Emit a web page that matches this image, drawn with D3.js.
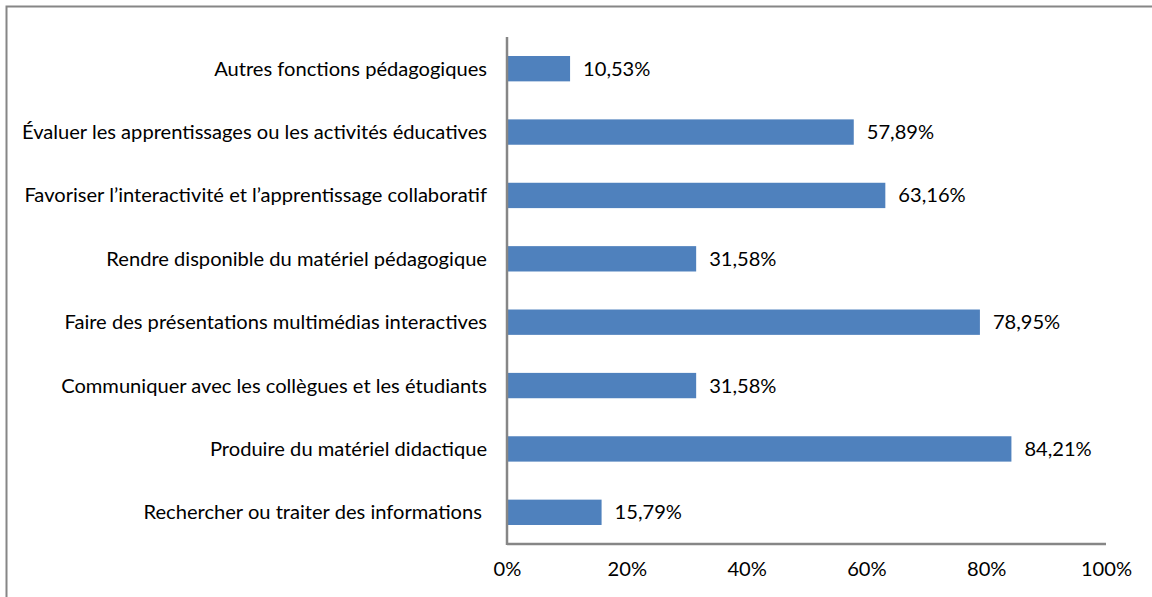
<!DOCTYPE html>
<html><head><meta charset="utf-8">
<script src="https://cdn.jsdelivr.net/npm/d3@7"></script>
<style>
html,body{margin:0;padding:0;background:#fff;}
text{font-family:Lato,"Liberation Sans",Arial,sans-serif;fill:#000;}
</style></head>
<body>
<svg id="c" width="1152" height="597"></svg>
<script>
const categories = [
  "Autres fonctions pédagogiques",
  "Évaluer les apprentissages ou les activités éducatives",
  "Favoriser l’interactivité et l’apprentissage collaboratif",
  "Rendre disponible du matériel pédagogique",
  "Faire des présentations multimédias interactives",
  "Communiquer avec les collègues et les étudiants",
  "Produire du matériel didactique",
  "Rechercher ou traiter des informations "
];
const values = [10.53, 57.89, 63.16, 31.58, 78.95, 31.58, 84.21, 15.79];
const tickValues = [0, 20, 40, 60, 80, 100];

const svg = d3.select("#c");
// outer frame (clipped at right and bottom)
svg.append("path").attr("d","M6.5,600 L6.5,6.5 L1160,6.5")
  .attr("fill","none").attr("stroke","#868686").attr("stroke-width",2);

const x = d3.scaleLinear().domain([0,100]).range([507,1106]);
const y = d3.scaleBand().domain(categories).range([37,544]).paddingInner(0.6).paddingOuter(0.3);

// bars
svg.selectAll("rect.bar").data(values).enter().append("rect")
  .attr("class","bar")
  .attr("x", x(0))
  .attr("y", (d,i)=>y(categories[i]))
  .attr("width", d=>x(d)-x(0))
  .attr("height", y.bandwidth())
  .attr("fill","#4F81BD");

// category labels
const fs = 16;
const labels = svg.selectAll("text.cat").data(categories).enter().append("text")
  .attr("class","cat")
  .attr("x", 487)
  .attr("y", d=>y(d)+y.bandwidth()/2)
  .attr("dy","0.35em")
  .attr("text-anchor","end")
  .style("white-space","pre")
  .style("font-size", fs+"px")
  .text(d=>d);
// scale font so the "Favoriser..." label matches the reference width (~463px)
let refW = 0;
labels.each(function(d,i){ if(i===2) refW = this.getComputedTextLength(); });
const fs2 = fs * 463 / refW;
labels.style("font-size", fs2+"px");

// value labels
const fmt = v => v.toFixed(2).replace(".", ",") + "%";
svg.selectAll("text.val").data(values).enter().append("text")
  .attr("class","val")
  .attr("x", d=>x(d)+13)
  .attr("y", (d,i)=>y(categories[i])+y.bandwidth()/2)
  .attr("dy","0.35em")
  .style("font-size", fs2+"px")
  .text(fmt);

// axes
const xAxis = d3.axisBottom(x).tickValues(tickValues).tickSize(0).tickPadding(0)
  .tickFormat(d=>d+"%");
const gx = svg.append("g").attr("transform","translate(0,544)").call(xAxis);
gx.select(".domain").attr("stroke","#868686").attr("stroke-width",2.5)
  .attr("d","M507,0H1106");
gx.selectAll("text").attr("y", 32).attr("dy","0").style("font-size", fs2+"px")
  .style("font-family",'Lato,"Liberation Sans",Arial,sans-serif').attr("fill","#000");

svg.append("line").attr("x1",507).attr("x2",507).attr("y1",37).attr("y2",545)
  .attr("stroke","#868686").attr("stroke-width",2.5);
</script>
</body></html>
